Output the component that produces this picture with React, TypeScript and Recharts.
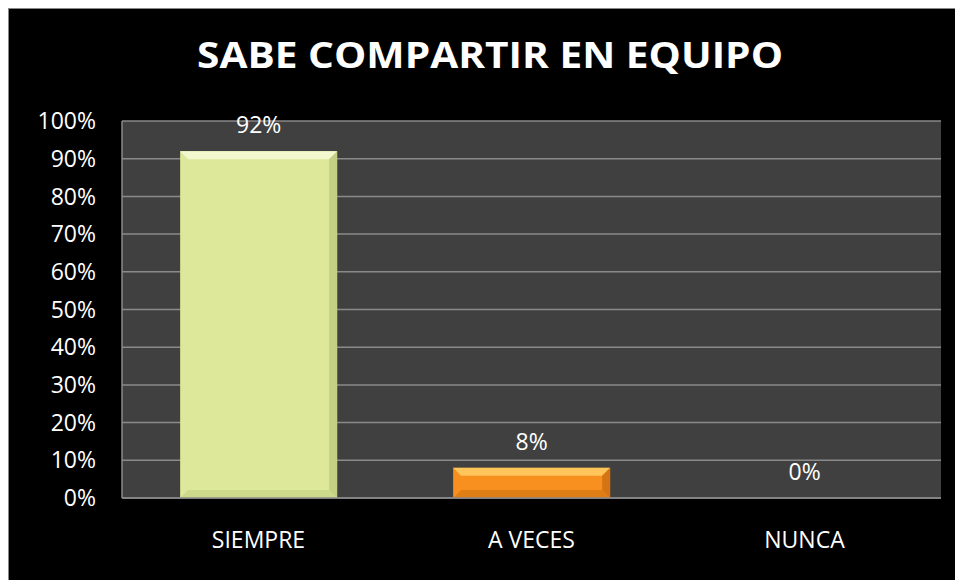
import React from "react";
import { BarChart, Bar, XAxis, YAxis, CartesianGrid, LabelList, Cell } from "recharts";

const categories = ["SIEMPRE", "A VECES", "NUNCA"];
const values = [92, 8, 0];
const yTicks = [0, 10, 20, 30, 40, 50, 60, 70, 80, 90, 100];
const title = "SABE COMPARTIR EN EQUIPO";

const palette = [
  { base: "#DEE89A", light: "#F4F8CF", dark: "#B9C77A" },
  { base: "#F7901E", light: "#FFC55A", dark: "#C4680E" },
  { base: "#4F81BD", light: "#7FA6D8", dark: "#3A6290" },
];

const data = categories.map((c, i) => ({ name: c, value: values[i], idx: i }));

const FONT = "'Open Sans', sans-serif";

const BevelBar = (props: any) => {
  const { x, y, width, height, payload } = props;
  if (!height || height <= 0) return null;
  const p = palette[payload.idx];
  const b = Math.min(8, height / 2, width / 2);
  return (
    <g>
      <rect x={x} y={y} width={width} height={height} fill={p.base} />
      <polygon points={`${x},${y} ${x + width},${y} ${x + width - b},${y + b} ${x + b},${y + b}`} fill={p.light} />
      <polygon points={`${x + width},${y} ${x + width},${y + height} ${x + width - b},${y + height - b} ${x + width - b},${y + b}`} fill={p.dark} opacity={0.7} />
      <polygon points={`${x},${y + height} ${x + width},${y + height} ${x + width - b},${y + height - b} ${x + b},${y + height - b}`} fill={p.dark} opacity={0.45} />
    </g>
  );
};

export default function App() {
  return (
    <div style={{ position: "fixed", left: 8, top: 8, width: 960, height: 585, background: "#000", borderTop: "1px solid #888", borderLeft: "1px solid #888", boxSizing: "border-box", overflow: "hidden" }}>
      <style>{"html,body{overflow:hidden;}"}</style>
      <BarChart
        width={946}
        height={571}
        data={data}
        margin={{ top: 112, right: 14, bottom: 0, left: 0 }}
        barCategoryGap="21.3%"
        style={{ position: "absolute", left: 0, top: 0 }}
      >
        <CartesianGrid vertical={false} stroke="#8A8A8A" fill="#404040" strokeWidth={1.5} />
        <XAxis
          dataKey="name"
          height={82}
          tickLine={false}
          tickSize={0}
          axisLine={{ stroke: "#8A8A8A", strokeWidth: 1.5 }}
          tick={{ fill: "#fff", fontSize: 23, fontFamily: FONT }}
          tickMargin={34}
          interval={0}
        />
        <YAxis
          domain={[0, 100]}
          ticks={yTicks}
          width={113}
          tickLine={false}
          tickSize={0}
          axisLine={{ stroke: "#8A8A8A", strokeWidth: 1.5 }}
          tickFormatter={(v: number) => `${v}%`}
          tick={{ fill: "#fff", fontSize: 23, fontFamily: FONT }}
          tickMargin={26}
        />
        <Bar dataKey="value" isAnimationActive={false} shape={<BevelBar />}>
          {data.map((d, i) => (
            <Cell key={i} fill={palette[i].base} />
          ))}
          <LabelList
            dataKey="value"
            position="top"
            offset={18}
            formatter={(v: number) => `${v}%`}
            fill="#fff"
            style={{ fontSize: 23, fontFamily: FONT }}
          />
        </Bar>
      </BarChart>
      <svg width={946} height={100} style={{ position: "absolute", left: 0, top: 0, pointerEvents: "none" }}>
        <text
          x={481}
          y={59}
          textAnchor="middle"
          fill="#fff"
          fontFamily={FONT}
          fontWeight={700}
          fontSize={35}
          textLength={586}
          lengthAdjust="spacingAndGlyphs"
        >
          {title}
        </text>
      </svg>
    </div>
  );
}
